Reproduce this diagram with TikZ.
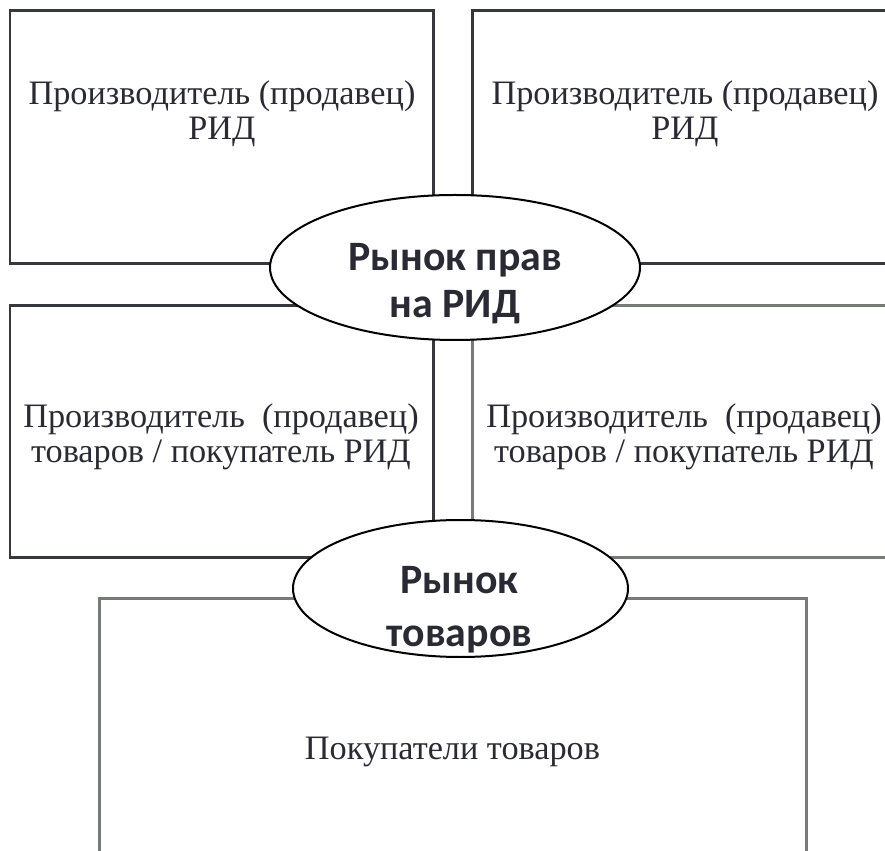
\documentclass[tikz,border=0pt]{standalone}
\usepackage{fontspec}
\setmainfont{Liberation Serif}
\newfontfamily\marketfont{Carlito}
\usetikzlibrary{shapes.geometric}
\definecolor{boxdark}{RGB}{55,55,62}
\definecolor{boxlight}{RGB}{118,123,120}
\definecolor{textgray}{RGB}{42,42,52}
\tikzset{
	party/.style={draw=boxdark, line width=0.06cm},
	partylight/.style={draw=boxlight, line width=0.06cm},
	partytext/.style={align=center, text=textgray, inner sep=0pt, font=\fontsize{19.5}{20}\selectfont},
	market/.style={ellipse, draw=black, fill=white, line width=0.04cm, inner sep=0pt},
	markettext/.style={align=center, text=textgray, inner sep=0pt, font=\marketfont\bfseries\fontsize{23.8}{26.7}\selectfont}
}

\begin{document}
\begin{tikzpicture}
			%%%%% START %%%%%
			
			\clip (0, 0) rectangle (17.7, 17);
			
			\draw[party] (0.2, 16.78) rectangle (8.66, 11.72);
			\draw[party] (9.44, 16.78) rectangle (17.9, 11.72);
			\draw[party] (0.2, 10.88) rectangle (8.66, 5.84);
			\draw[partylight] (9.44, 10.88) rectangle (17.9, 5.84);
			\draw[partylight] (1.98, 5.02) rectangle (16.12, -0.3);
			
			\node[partytext] (ridsellerA) at (4.44, 14.72) {Производитель (продавец)\\РИД};
			\node[partytext] (ridsellerB) at (13.7, 14.72) {Производитель (продавец)\\РИД};
			\node[partytext] (ridbuyerA) at (4.42, 8.26) {Производитель\ \ (продавец)\\товаров / покупатель РИД};
			\node[partytext] (ridbuyerB) at (13.68, 8.26) {Производитель\ \ (продавец)\\товаров / покупатель РИД};
			\node[partytext] (goodsbuyers) at (9.05, 1.96) {Покупатели товаров};
			
			\node[market, minimum width=7.4cm, minimum height=2.9cm] (ridmarket) at (9.1, 11.65) {};
			\node[markettext] (ridmarkettext) at (9.1, 11.32) {Рынок прав\\на РИД};
			
			\node[market, minimum width=6.7cm, minimum height=2.74cm] (goodsmarket) at (9.21, 5.23) {};
			\node[markettext, font=\marketfont\bfseries\fontsize{23.8}{30}\selectfont] (goodsmarkettext) at (9.19, 4.8) {Рынок\\товаров};
			
			%%%%% END %%%%%
\end{tikzpicture}
\end{document}
